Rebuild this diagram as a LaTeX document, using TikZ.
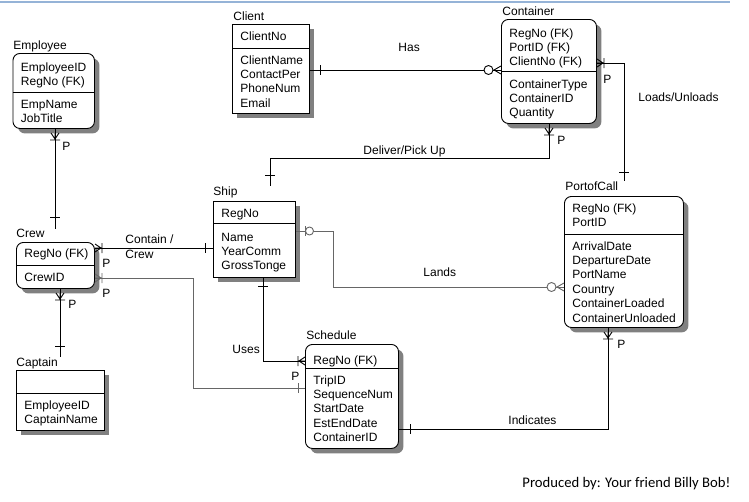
\documentclass[tikz,border=0pt]{standalone}
\usepackage{fontspec}
\setmainfont{Liberation Sans}
\newfontfamily\prodfont{Carlito}
\usetikzlibrary{shadows,calc}
\definecolor{topblue}{RGB}{149,179,215}
\newcommand\erows[4]{\foreach \t [count=\i] in {#4}{\node[row] (#1\i) at (#2,{#3+14.4*(\i-1)}) {\t};}}
\begin{document}
\begin{tikzpicture}[x=1pt,y=-1pt,font=\fontsize{12}{14.4}\selectfont,line width=0.9pt,
  ent/.style={draw=black,fill=white,inner sep=0pt,anchor=north west,
    drop shadow={shadow xshift=5pt,shadow yshift=-5pt,fill=black!50,opacity=1}},
  rent/.style={ent,rounded corners=7pt},
  row/.style={inner sep=0pt,anchor=base west},
  ttl/.style={inner sep=0pt,anchor=base west},
  lbl/.style={inner sep=0pt,anchor=base west},
  rel/.style={draw=black},
  relg/.style={draw=black!60},
  tick/.pic={\draw (0,-5)--(0,5);},
  crowbar/.pic={\draw (0,-4)--(6,0)--(0,4) (0,0)--(6,0) (7,-5)--(7,5);},
  zcrow/.pic={\draw (0,-4)--(7,0)--(0,4); \draw[fill=white] (12.5,0) circle[radius=4.5pt];},
  zbar/.pic={\draw (0,-5)--(0,5); \draw[fill=white] (4.5,0) circle[radius=4pt];}
]
\useasboundingbox (0,0) rectangle (749,501);
\fill[white] (0,0) rectangle (749,501);
\draw[topblue,line width=1.3pt] (0,2) -- (730,2);

% ---------- entities ----------
\node[rent,minimum width=81.5pt,minimum height=75pt] (emp) at (12.5,53) {};
\node[ent,minimum width=77pt,minimum height=89pt] (client) at (232,24) {};
\node[rent,minimum width=95pt,minimum height=104pt] (container) at (501,19) {};
\node[rent,minimum width=119pt,minimum height=131pt] (poc) at (564,196) {};
\node[ent,minimum width=82pt,minimum height=76pt] (ship) at (213,201) {};
\node[rent,minimum width=78pt,minimum height=46pt] (crew) at (16,242) {};
\node[ent,minimum width=88pt,minimum height=60pt] (captain) at (16,370) {};
\node[rent,minimum width=93pt,minimum height=104pt] (schedule) at (305,344) {};

% dividers
\draw (emp.west |- 0,92) -- (emp.east |- 0,92);
\draw (client.west |- 0,48) -- (client.east |- 0,48);
\draw (container.west |- 0,71) -- (container.east |- 0,71);
\draw (poc.west |- 0,234) -- (poc.east |- 0,234);
\draw (ship.west |- 0,223) -- (ship.east |- 0,223);
\draw (crew.west |- 0,265) -- (crew.east |- 0,265);
\draw (captain.west |- 0,393) -- (captain.east |- 0,393);
\draw (schedule.west |- 0,368) -- (schedule.east |- 0,368);

% titles
\node[ttl] (empT) at (13,49.5) {Employee};
\node[ttl] (clientT) at (233,20) {Client};
\node[ttl] (containerT) at (502,15) {Container};
\node[ttl] (pocT) at (565,190) {PortofCall};
\node[ttl] (shipT) at (213,195) {Ship};
\node[ttl] (crewT) at (16,237.5) {Crew};
\node[ttl] (captT) at (16,366) {Captain};
\node[ttl] (schedT) at (306,339) {Schedule};

% rows
\erows{empk}{20.5}{71}{EmployeeID,RegNo (FK)}
\erows{empa}{20.5}{108}{EmpName,JobTitle}
\erows{clik}{240}{40}{ClientNo}
\erows{clia}{240}{64}{ClientName,ContactPer,PhoneNum,Email}
\erows{conk}{509}{37}{RegNo (FK),PortID (FK),ClientNo (FK)}
\erows{cona}{509}{88}{ContainerType,ContainerID,Quantity}
\erows{pock}{572}{212}{RegNo (FK),PortID}
\erows{poca}{572}{250}{ArrivalDate,DepartureDate,PortName,Country,ContainerLoaded,ContainerUnloaded}
\erows{shik}{221}{217}{RegNo}
\erows{shia}{221}{241}{Name,YearComm,GrossTonge}
\erows{crek}{24}{257.5}{RegNo (FK)}
\erows{crea}{24}{281.5}{CrewID}
\erows{capa}{24}{409}{EmployeeID,CaptainName}
\erows{schk}{313}{364}{RegNo (FK)}
\erows{scha}{313}{384}{TripID,SequenceNum,StartDate,EstEndDate,ContainerID}

% ---------- relationships ----------
% Employee - Crew
\draw[rel] (emp.south -| 55,0) -- (crewT.north -| 55,0);
\pic[rotate=-90] at (55,133) {crowbar};
\pic[rotate=90] at (55,217) {tick};
\node[lbl] (p1) at (62,150) {P};

% Crew - Captain
\draw[rel] (crew.south -| 60,0) -- (captT.north -| 60,0);
\pic[rotate=-90] at (60,293) {crowbar};
\pic[rotate=90] at (60,346) {tick};
\node[lbl] (p2) at (68,308) {P};

% Crew - Ship (Contain / Crew)
\draw[rel] (crew.east |- 0,248) -- (ship.west |- 0,248);
\pic at (95,248) {crowbar};
\pic at (205,248) {tick};
\node[lbl] (l3a) at (125,243) {Contain /};
\node[lbl] (l3b) at (125,258) {Crew};
\node[lbl] (p3) at (102,267) {P};

% Crew - Schedule
\draw[relg] (crew.east |- 0,278) -| (193,388) -- (schedule.west |- 0,388);
\pic[black!60] at (95,278) {crowbar};
\pic[black!60] at (298,388) {tick};
\node[lbl] (p4) at (102,297.5) {P};

% Ship - Schedule (Uses)
\draw[rel] (ship.south -| 263,0) |- (schedule.west |- 0,361);
\pic[rotate=90] at (263,286) {tick};
\pic[rotate=180] at (305,361) {crowbar};
\node[lbl] (l5) at (232,353) {Uses};
\node[lbl] (p5) at (291,380) {P};

% Ship - PortofCall (Lands)
\draw[relg] (ship.east |- 0,231) -| (333,287) -- (poc.west |- 0,287);
\pic[black!60] at (305,231) {zbar};
\pic[black!60,rotate=180] at (564,287) {zcrow};
\node[lbl] (l6) at (423,276) {Lands};

% Client - Container (Has)
\draw[rel] (client.east |- 0,70) -- (container.west |- 0,70);
\pic at (320,70) {tick};
\pic[rotate=180] at (501,70) {zcrow};
\node[lbl] (l7) at (398,51) {Has};

% Container - Ship (Deliver/Pick Up)
\draw[rel] (container.south -| 549,0) |- (270,158) -- (shipT.north -| 270,0);
\pic[rotate=-90] at (549,128) {crowbar};
\pic[rotate=90] at (270,175) {tick};
\node[lbl] (p8) at (557,144) {P};
\node[lbl] (l8) at (363,154) {Deliver/Pick Up};

% Container - PortofCall (Loads/Unloads)
\draw[rel] (container.east |- 0,63) -| (pocT.north -| 624,0);
\pic at (597,63) {crowbar};
\pic[rotate=90] at (624,172) {tick};
\node[lbl] (p9) at (603,83) {P};
\node[lbl] (l9) at (638,101) {Loads/Unloads};

% Schedule - PortofCall (Indicates)
\draw[rel] (schedule.east |- 0,429) -| (poc.south -| 608,0);
\pic at (410,429) {tick};
\pic[rotate=-90] at (608,332) {crowbar};
\node[lbl] (p10) at (617,348) {P};
\node[lbl] (l10) at (508,424) {Indicates};

% footer
\node[lbl,font=\prodfont\fontsize{14.67}{17}\selectfont] (prod) at (522,487) {Produced by: Your friend Billy Bob!};
\end{tikzpicture}
\end{document}
